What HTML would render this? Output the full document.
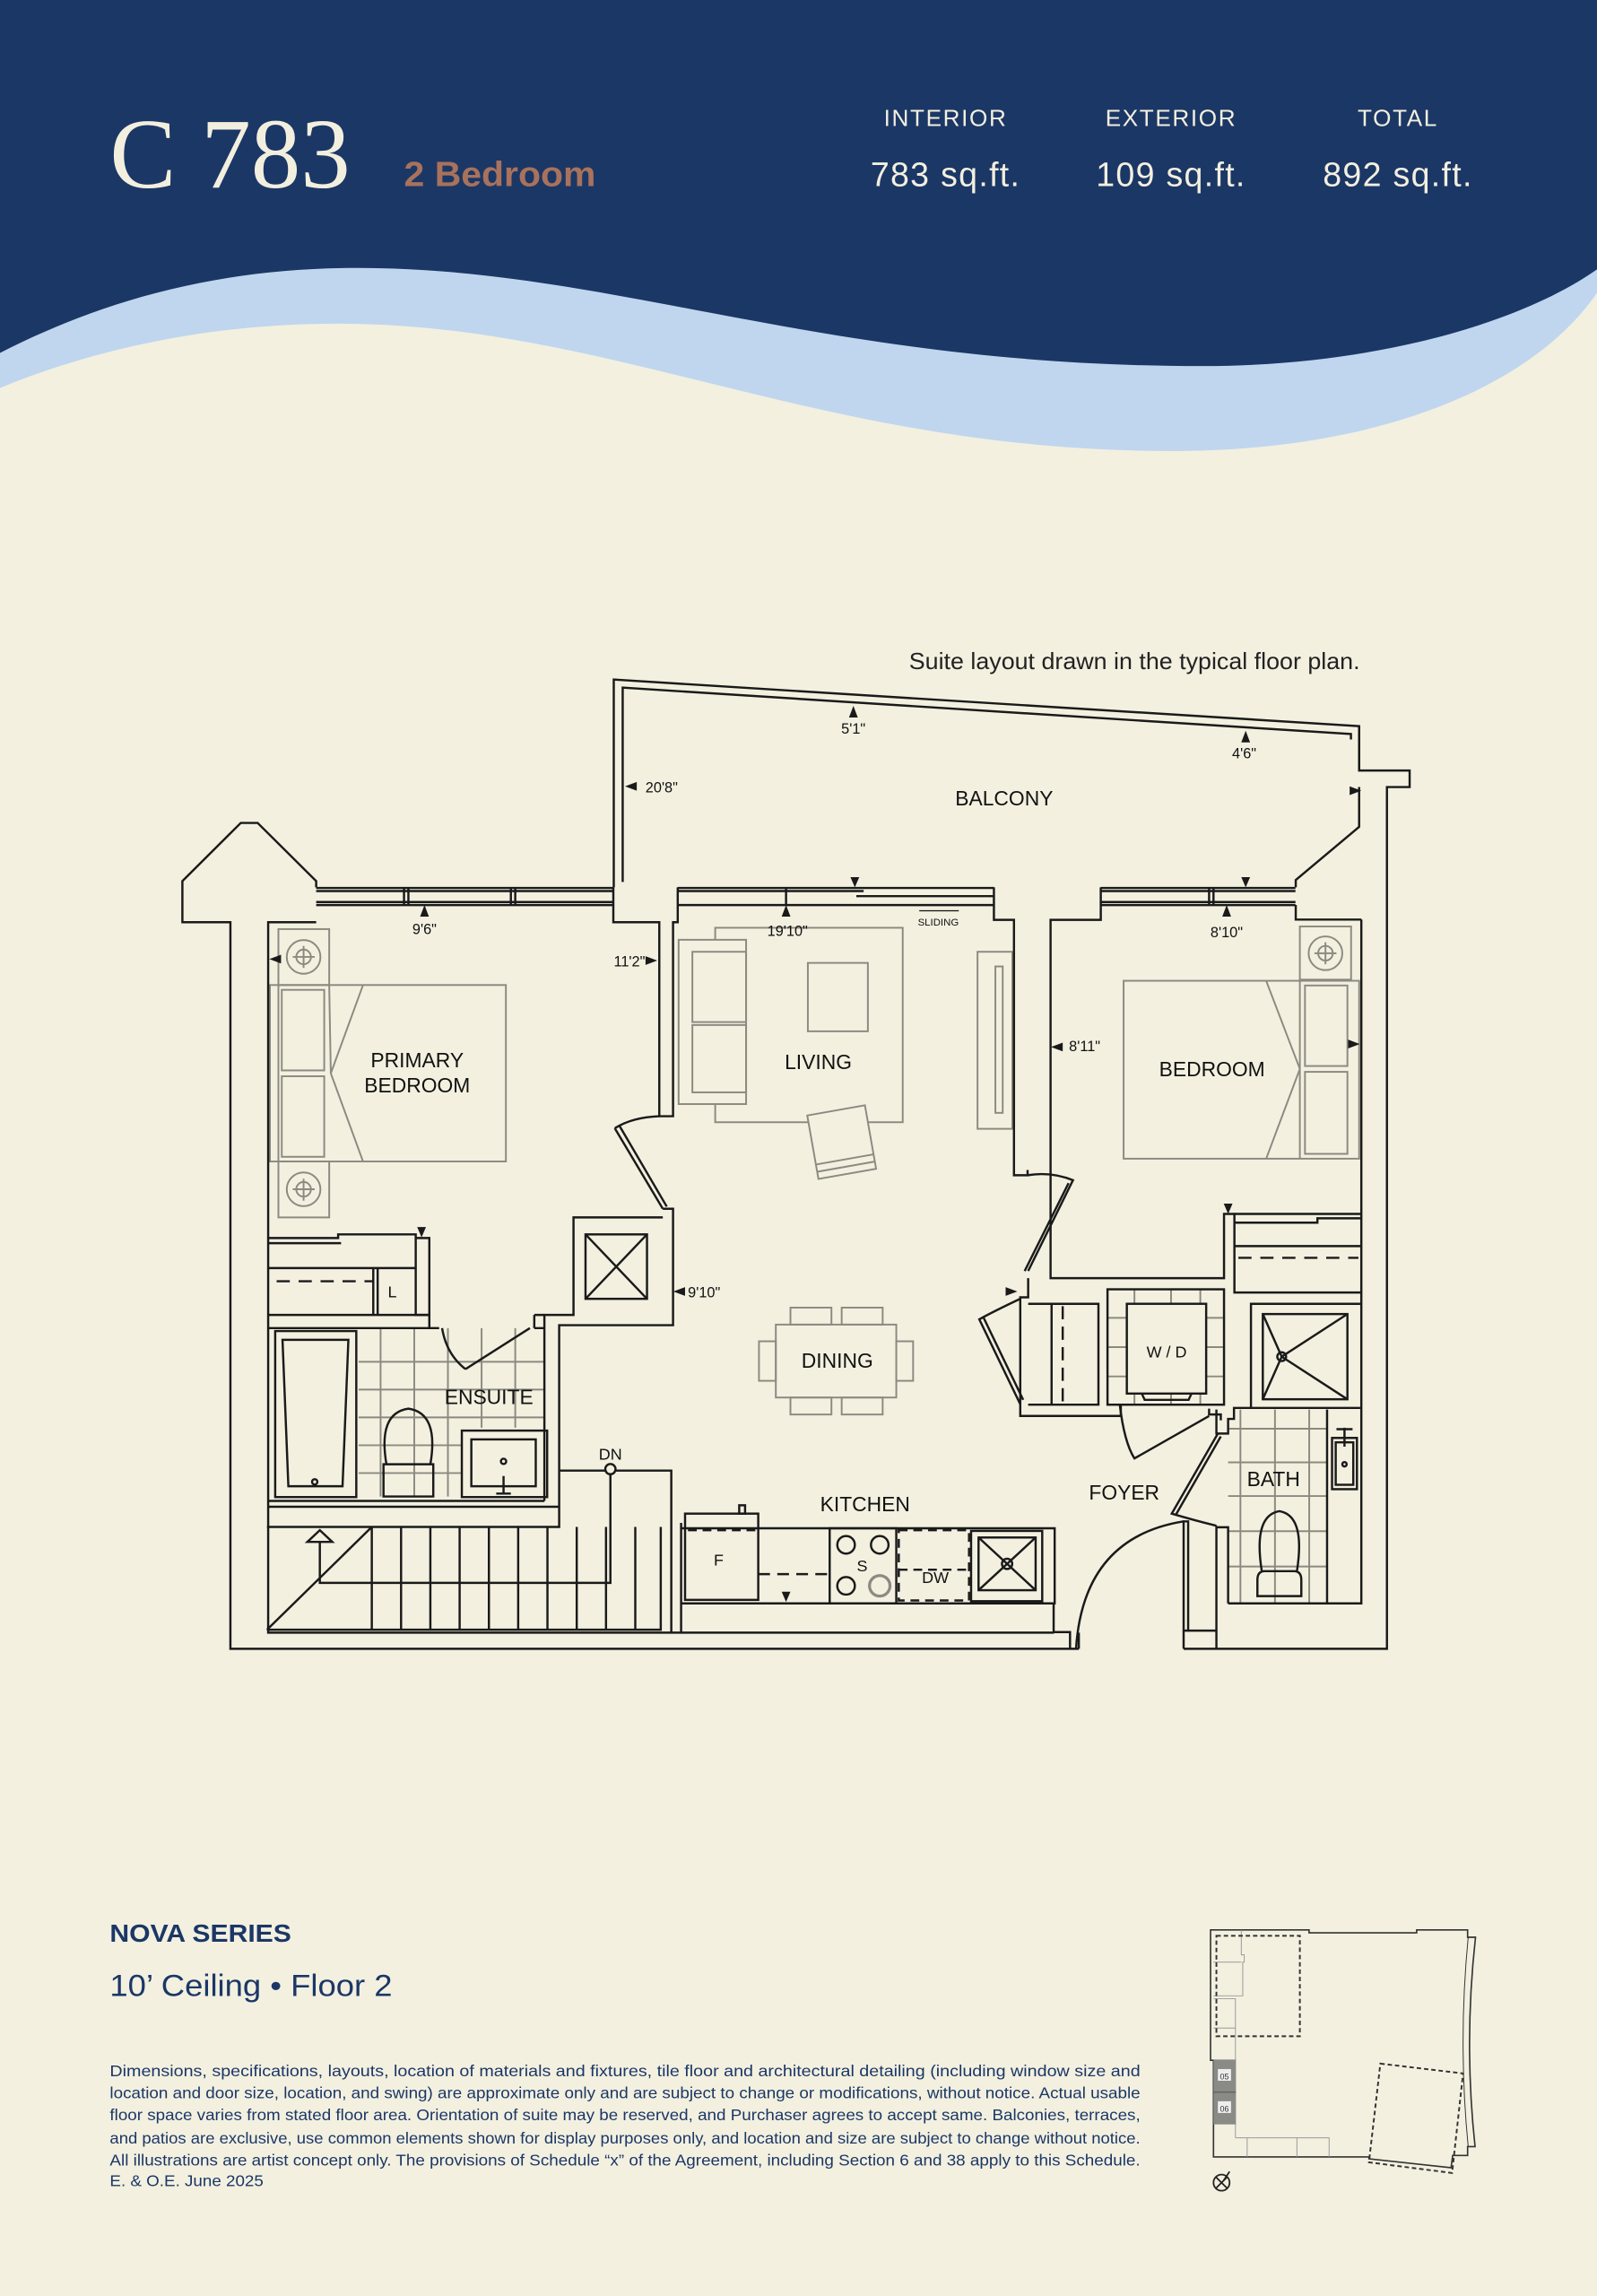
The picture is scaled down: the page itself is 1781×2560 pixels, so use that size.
<!DOCTYPE html>
<html><head><meta charset="utf-8"><style>
html,body{margin:0;padding:0;background:#f3f0e0;}
svg{display:block;}
</style></head><body>
<svg xmlns="http://www.w3.org/2000/svg" width="1781" height="2560" viewBox="0 0 1091 1568" preserveAspectRatio="none">
<rect width="1091" height="1568" fill="#f3f0e0"/>
<path d="M0,0 H1091 V320 H0 Z" fill="#bfd6ee"/>
<path d="M0,265 C60,240 140,221 230,221 C420,221 560,308 800,308 C950,308 1050,260 1091,200 V330 H0 Z" fill="#f3f0e0"/>
<path d="M0,0 H1091 V184 C1040,220 940,250 821,250 C560,250 420,183 244,183 C160,183 80,200 0,241 Z" fill="#1b3766"/>
<text x="75" y="128" font-family="Liberation Serif, serif" font-size="68" fill="#f3efdf">C 783</text>
<text x="276" y="127" font-family="Liberation Sans, sans-serif" font-size="24" font-weight="600" fill="#a8725c" textLength="131" lengthAdjust="spacingAndGlyphs">2 Bedroom</text>
<g font-family="Liberation Sans, sans-serif" fill="#f3efdf" text-anchor="middle">
<text x="646" y="86" font-size="16" letter-spacing="1">INTERIOR</text>
<text x="800" y="86" font-size="16" letter-spacing="1">EXTERIOR</text>
<text x="955" y="86" font-size="16" letter-spacing="1">TOTAL</text>
<text x="646" y="127" font-size="23" letter-spacing="0.8">783 sq.ft.</text>
<text x="800" y="127" font-size="23" letter-spacing="0.8">109 sq.ft.</text>
<text x="955" y="127" font-size="23" letter-spacing="0.8">892 sq.ft.</text>
</g>
<text x="621" y="457" font-family="Liberation Sans, sans-serif" font-size="16" fill="#222" textLength="308" lengthAdjust="spacingAndGlyphs">Suite layout drawn in the typical floor plan.</text>

<g fill="none" stroke="#8c8a80" stroke-width="1.2">
<rect x="184.4" y="672.7" width="161.2" height="120.5"/>
<line x1="224.9" y1="672.7" x2="226" y2="733"/>
<path d="M248,672.7 L226,733 L248,793.2"/>
<rect x="190.2" y="634.5" width="34.7" height="38.2"/>
<rect x="190.2" y="793.2" width="34.7" height="38.2"/>
<circle cx="207.4" cy="653.5" r="11.5"/><circle cx="207.4" cy="812.2" r="11.5"/>
<circle cx="207.4" cy="653.5" r="5"/><circle cx="207.4" cy="812.2" r="5"/>
<line x1="200" y1="653.5" x2="215" y2="653.5"/><line x1="207.4" y1="646" x2="207.4" y2="661"/>
<line x1="200" y1="812.2" x2="215" y2="812.2"/><line x1="207.4" y1="805" x2="207.4" y2="820"/>
<rect x="192.5" y="676" width="29" height="55"/><rect x="192.5" y="735" width="29" height="55"/>
<line x1="190.2" y1="672.7" x2="190.2" y2="793.2"/>
<rect x="488.6" y="633.6" width="128.1" height="132.8"/>
<rect x="463.6" y="641.8" width="46.1" height="112.2" fill="#f3f0e0"/>
<rect x="473" y="650" width="36.7" height="48"/><rect x="473" y="700" width="36.7" height="46"/>
<rect x="551.9" y="657.6" width="41" height="46.7"/>
<g transform="translate(575,780) rotate(-10)">
<rect x="-20" y="-22" width="40" height="44" fill="#f3f0e0"/><line x1="-20" y1="12" x2="20" y2="12"/><line x1="-20" y1="17" x2="20" y2="17"/></g>
<rect x="667.8" y="650" width="23.8" height="120.9"/>
<rect x="680" y="660" width="5" height="100"/>
<rect x="767.6" y="669.8" width="160.9" height="121.5"/>
<path d="M865,669.8 L888,730 L865,791.3"/>
<rect x="888" y="632.7" width="35" height="36.3"/>
<circle cx="905.5" cy="651" r="11.5"/><circle cx="905.5" cy="651" r="5"/>
<line x1="898" y1="651" x2="913" y2="651"/><line x1="905.5" y1="643.5" x2="905.5" y2="658.5"/>
<rect x="891.5" y="673" width="29" height="55"/><rect x="891.5" y="732" width="29" height="56"/>
<line x1="888" y1="669.8" x2="888" y2="791.3"/>
<rect x="530" y="904.6" width="82.3" height="49.8"/>
<rect x="540" y="893" width="28" height="11.6"/><rect x="575" y="893" width="28" height="11.6"/>
<rect x="540" y="954.4" width="28" height="11.6"/><rect x="575" y="954.4" width="28" height="11.6"/>
<rect x="518.5" y="916" width="11.5" height="27"/><rect x="612.3" y="916" width="11.5" height="27"/>
<path d="M260,907 V1022 M283,907 V1022 M306,907 V1022 M329,907 V975 M352,907 V975 M245,930 H372 M245,949 H372 M245,968 H372 M245,987 H315 M245,1006 H315"/>
<path d="M847.4,962.6 V1095 M871,962.6 V1095 M894.4,962.6 V1095 M906.6,962.6 V1095 M839,975.7 H906.6 M839,998.7 H906.6 M839,1021.7 H906.6 M839,1045.7 H906.6 M839,1069.8 H906.6"/>
<path d="M757,900 H836 M757,920 H836 M757,940 H836 M775,880.5 V959 M800,880.5 V959 M820,880.5 V959"/>
</g>

<g fill="none" stroke="#1a1a1a" stroke-width="1.5" stroke-linejoin="miter">
<path d="M216,606 V601.7 L176,562 H164.5 L124.6,601.7 V629.8 H157.4 V1126 H737"/>
<path d="M216,629.8 H183.2 V1115 H720"/>
<path d="M808.6,1126 H947.5 V537.5 H963 V526.2 H928.5 V495.9"/>
<path d="M930,628 V1095 H839"/>
<path d="M885.2,606 V601 L928.5,564.7 V537.5"/>
<path d="M885.2,618 V628 H930"/>
<path d="M419.3,606 V464.1 L928.5,495.9 V526.2"/>
<path d="M425.4,602.3 V469.6 L922.9,501.3 V505"/>
<path d="M216,606.4 H419 M216,618.1 H419 M216,608.5 H419 M216,616 H419"/>
<path d="M276,606.4 V618.1 M279,606.4 V618.1 M349,606.4 V618.1 M352,606.4 V618.1"/>
<path d="M463,606.4 H679 M463,618.1 H679 M463,608.5 H590 M585,612 H679 M537,606.4 V618.1"/>
<path d="M752,606.4 H885 M752,618.1 H885 M752,608.5 H885 M752,616 H885 M826,606.4 V618.1 M829,606.4 V618.1"/>
<path d="M419,606 V629.8 H450.4 V762.3 H459.8 V629.8 H463 V606"/>
<path d="M679,606 V628.2 H692.7 V802.6 H702 V799 M752,606 V628.2 H717.7 V872.9 H836.2 V829 H843.3 V882.7 H930"/>
<path d="M420,770.5 L452.8,825.5 M423,768.5 L455.5,824" />
<path d="M420,770.5 Q432,763 450.4,762.3"/>
<path d="M452.8,825.5 H459.8 V905 H382 V1004.3"/>
<path d="M452.8,831.4 H391.8 V898 H371.9 V1025"/>
<rect x="400" y="843" width="42" height="44"/>
<path d="M400,843 L442,887 M442,843 L400,887"/>
<path d="M183.2,845.5 H231 V843 H284 V898 H293.3 V845.5 H284"/>
<path d="M183.2,849 H233"/>
<path d="M183.2,866 H284"/>
<path d="M189,875 H255" stroke-dasharray="9,6"/>
<path d="M255,866 V898 M258,866 V898"/>
<path d="M183.2,898 H293.3"/>
<path d="M183.2,907 H300 M365,907 H371.9 M293.3,898 V907 M365,898 V907 M365,898 H371.9"/>
<path d="M302,907 Q305,925 318,935 M318,935 L362,907"/>
<rect x="188" y="909" width="55.4" height="113.4"/>
<path d="M193,915 H238 L234,1015 H197 Z"/>
<circle cx="215" cy="1012" r="1.8"/>
<path d="M262,1022 V1000 H296 V1022 Z M264,1000 Q258,965 279,962 Q300,965 294,1000"/>
<rect x="315.5" y="977" width="58.3" height="45.4"/>
<rect x="322" y="983" width="44" height="32"/>
<circle cx="344" cy="998" r="1.8"/>
<path d="M344,1008 V1020 M339,1020 H349"/>
<path d="M183.2,1025 H371.9 M183.2,1029 H382"/>
<path d="M382,1004.3 H458.6 V1115 M465.3,1040 V1115"/>
<path d="M382,1004.3 V1042.8 H182.4 M182.4,1113 H451.4 V1042.8"/>
<path d="M254,1042.8 V1113 M274,1042.8 V1113 M294,1042.8 V1113 M314,1042.8 V1113 M334,1042.8 V1113 M354,1042.8 V1113 M374,1042.8 V1113 M394,1042.8 V1113 M414,1042.8 V1113 M434,1042.8 V1113"/>
<path d="M182.4,1113 L254,1042.8"/>
<circle cx="417" cy="1003.3" r="3.5" fill="#f3f0e0"/>
<path d="M417,1006.8 V1081 H218.5 V1053"/>
<path d="M210,1053 L218.5,1045 L227,1053 Z"/>
<path d="M465.3,1043.7 H720.5 V1095 H465.3 M719.8,1095 V1114.6 H731 V1126 M737,1126 V1115"/>
<rect x="468" y="1033.7" width="50" height="58.9"/>
<path d="M470,1045 H516" stroke-dasharray="6,4"/>
<rect x="505" y="1028" width="4" height="5.7"/>
<path d="M518,1075 H566" stroke-dasharray="8,5"/>
<rect x="566.8" y="1043.7" width="45.5" height="51.3"/>
<circle cx="578" cy="1055" r="6"/><circle cx="601" cy="1055" r="6"/><circle cx="578" cy="1083" r="6"/><circle cx="601" cy="1083" r="7" stroke="#8c8a80" stroke-width="2"/>
<rect x="614" y="1045" width="48" height="48" stroke-dasharray="6,4"/>
<path d="M614,1072 H662" stroke-dasharray="6,4"/>
<rect x="663.4" y="1045.5" width="48.6" height="48"/>
<rect x="668.5" y="1050" width="39" height="36"/>
<path d="M668.5,1050 L707.5,1086 M707.5,1050 L668.5,1086"/>
<circle cx="688" cy="1068" r="3.5"/>
<path d="M735.1,1126 Q740,1050 808.6,1039"/>
<path d="M808.6,1039 V1113.6 H811.7 V1039 Z"/>
<path d="M808.6,1113.6 V1126 M831,1126 V1114.6 M811.7,1113.6 H831 M831,1114.6 V1042"/>
<path d="M839,1095 V1043 H831 M831,1042 Q815,1038 800.5,1033.7 L832,979"/>
<path d="M803,1035 L834,981"/>
<path d="M831,962.6 V979 H839 V969 H843 V961.5 H854.6 V890.4 H930"/>
<rect x="862.7" y="897.4" width="57.8" height="58.2"/>
<path d="M862.7,897.4 L875.6,926.5 L920.5,897.4 M862.7,955.6 L875.6,926.5 L920.5,955.6"/>
<circle cx="875.6" cy="926.5" r="3"/>
<path d="M854.6,961.5 H930"/>
<path d="M906.6,962.6 V1095"/>
<rect x="910" y="982" width="17" height="35"/><rect x="912.5" y="985" width="12" height="29"/>
<circle cx="918.5" cy="1000" r="1.5"/><path d="M918.5,975 V988 M913,976 H924"/>
<path d="M859,1090 V1079 Q859,1073 864,1073 H884 Q889,1073 889,1079 V1090 Z M862,1073 Q856,1035 874,1032 Q892,1035 886,1073"/>
<rect x="756.6" y="880.5" width="79.6" height="78.8"/>
<rect x="769.8" y="890.4" width="54.2" height="61.3" fill="#f3f0e0"/>
<path d="M780,951.7 L782,956 H812 L814,951.7"/>
<path d="M765,959.3 Q768,985 775,996 L826,967 M826,962 V966 H834 V970"/>
<path d="M702.4,872.9 V886 H697 V967 H765.7 V959.3"/>
<path d="M702.4,890.4 H750.4 V959.3 H702.4"/>
<path d="M718.4,890.4 V959.3"/>
<path d="M726,892 V958" stroke-dasharray="9,5"/>
<path d="M697,887 Q680,895 669,901 L697,959 M672,900 L699,956"/>
<path d="M702,802.6 Q718,800 733,806 L702.4,868"/>
<path d="M730,808 L700,868"/>
<path d="M843.3,829 H930 M843.3,835 H900 V832 H930 M843.3,851 H930"/>
<path d="M846,859 H928" stroke-dasharray="9,6"/>
</g>

<g fill="#1a1a1a">
<path d="M583,482 l-3,8 h6 z"/><path d="M851,499 l-3,8 h6 z"/>
<path d="M427,537 l8,-3 v6 z"/><path d="M930,540 l-8,-3 v6 z"/>
<path d="M290,618 l-3,8 h6 z"/><path d="M537,618 l-3,8 h6 z"/><path d="M838,618 l-3,8 h6 z"/>
<path d="M584,606 l-3,-7 h6 z"/><path d="M851,606 l-3,-7 h6 z"/>
<path d="M184,655 l8,-3 v6 z"/><path d="M449,656 l-8,-3 v6 z"/>
<path d="M718,715 l8,-3 v6 z"/><path d="M929,713 l-8,-3 v6 z"/>
<path d="M288,845 l-3,-7 h6 z"/><path d="M839,829 l-3,-7 h6 z"/>
<path d="M460,882 l8,-3 v6 z"/><path d="M695,882 l-8,-3 v6 z"/>
<path d="M537,1094 l-3,-7 h6 z"/>
</g>

<g font-family="Liberation Sans, sans-serif" fill="#111" text-anchor="middle">
<g font-size="10">
<text x="583" y="501">5'1"</text><text x="850" y="518">4'6"</text>
<text x="452" y="541">20'8"</text>
<text x="290" y="638">9'6"</text><text x="538" y="639">19'10"</text><text x="838" y="640">8'10"</text>
<text x="430" y="660">11'2"</text><text x="741" y="718">8'11"</text>
<text x="481" y="886">9'10"</text>
</g>
<text x="641" y="632" font-size="7">SLIDING</text>
<path d="M628,622 H655" stroke="#111" stroke-width="0.8"/>
<g font-size="14">
<text x="686" y="550">BALCONY</text>
<text x="285" y="729">PRIMARY</text><text x="285" y="746">BEDROOM</text>
<text x="559" y="730">LIVING</text><text x="828" y="735">BEDROOM</text>
<text x="572" y="934">DINING</text><text x="334" y="959">ENSUITE</text>
<text x="870" y="1015">BATH</text><text x="768" y="1024">FOYER</text>
<text x="591" y="1032">KITCHEN</text>
</g>
<g font-size="11">
<text x="268" y="886">L</text><text x="797" y="927">W / D</text><text x="417" y="997">DN</text>
<text x="491" y="1069">F</text><text x="589" y="1073">S</text><text x="639" y="1081">DW</text>
</g>
</g>

<g font-family="Liberation Sans, sans-serif" fill="#1b3766">
<text x="75" y="1326" font-size="17" font-weight="bold" textLength="124" lengthAdjust="spacingAndGlyphs">NOVA SERIES</text>
<text x="75" y="1363" font-size="21" textLength="193" lengthAdjust="spacingAndGlyphs">10’ Ceiling • Floor 2</text>
<g font-size="10.5">
<text x="75" y="1418" textLength="704" lengthAdjust="spacingAndGlyphs">Dimensions, specifications, layouts, location of materials and fixtures, tile floor and architectural detailing (including window size and</text>
<text x="75" y="1433" textLength="704" lengthAdjust="spacingAndGlyphs">location and door size, location, and swing) are approximate only and are subject to change or modifications, without notice. Actual usable</text>
<text x="75" y="1448" textLength="704" lengthAdjust="spacingAndGlyphs">floor space varies from stated floor area. Orientation of suite may be reserved, and Purchaser agrees to accept same. Balconies, terraces,</text>
<text x="75" y="1464" textLength="704" lengthAdjust="spacingAndGlyphs">and patios are exclusive, use common elements shown for display purposes only, and location and size are subject to change without notice.</text>
<text x="75" y="1479" textLength="704" lengthAdjust="spacingAndGlyphs">All illustrations are artist concept only. The provisions of Schedule “x” of the Agreement, including Section 6 and 38 apply to this Schedule.</text>
<text x="75" y="1493" textLength="105" lengthAdjust="spacingAndGlyphs">E. &amp; O.E. June 2025</text>
</g>
</g>

<g fill="none" stroke="#333" stroke-width="1">
<path d="M827,1318 H894.3 V1320 H967.8 V1318 H1002.6 V1323 H1008 Q1000,1395 1007.7,1466 H1002.6 V1472 H992.4 L991.3,1480.4 L935.2,1474.3 V1473 H829 V1407 H827 Z"/>
<path d="M1003,1323 Q996,1395 1003,1466" stroke-width="0.6"/>
<path d="M848,1318 V1335 H850 V1340 H849 V1363 H829 M829,1340 H848 M829,1365 H844 V1460 M829,1385 H844 M844,1460 H908 V1473 M852,1460 V1473 M886,1460 V1473" stroke="#999" stroke-width="0.6"/>
<rect x="831" y="1322" width="57" height="68.6" stroke-dasharray="3,2" stroke-width="1.2"/>
<path d="M943,1409.3 L999.5,1416 L992,1484 L935.2,1476.7 Z" stroke-dasharray="3,2" stroke-width="1.2"/>
</g>
<rect x="829" y="1406.5" width="15.3" height="44.3" fill="#8a8a86"/>
<line x1="829" y1="1428.8" x2="844.3" y2="1428.8" stroke="#555" stroke-width="0.6"/>
<rect x="832" y="1413" width="9" height="8" fill="#eee"/><rect x="832" y="1435" width="9" height="8" fill="#eee"/>
<text x="836.5" y="1420" font-family="Liberation Sans, sans-serif" font-size="5.5" text-anchor="middle" fill="#333">05</text>
<text x="836.5" y="1442" font-family="Liberation Sans, sans-serif" font-size="5.5" text-anchor="middle" fill="#333">06</text>
<g stroke="#222" stroke-width="1.1" fill="none">
<circle cx="834.5" cy="1490.6" r="5.5"/>
<path d="M830.5,1486.6 L838.5,1494.6 M838.5,1486.6 L830.5,1494.6 M836,1489 L840,1483"/>
</g>
</svg>
</body></html>
